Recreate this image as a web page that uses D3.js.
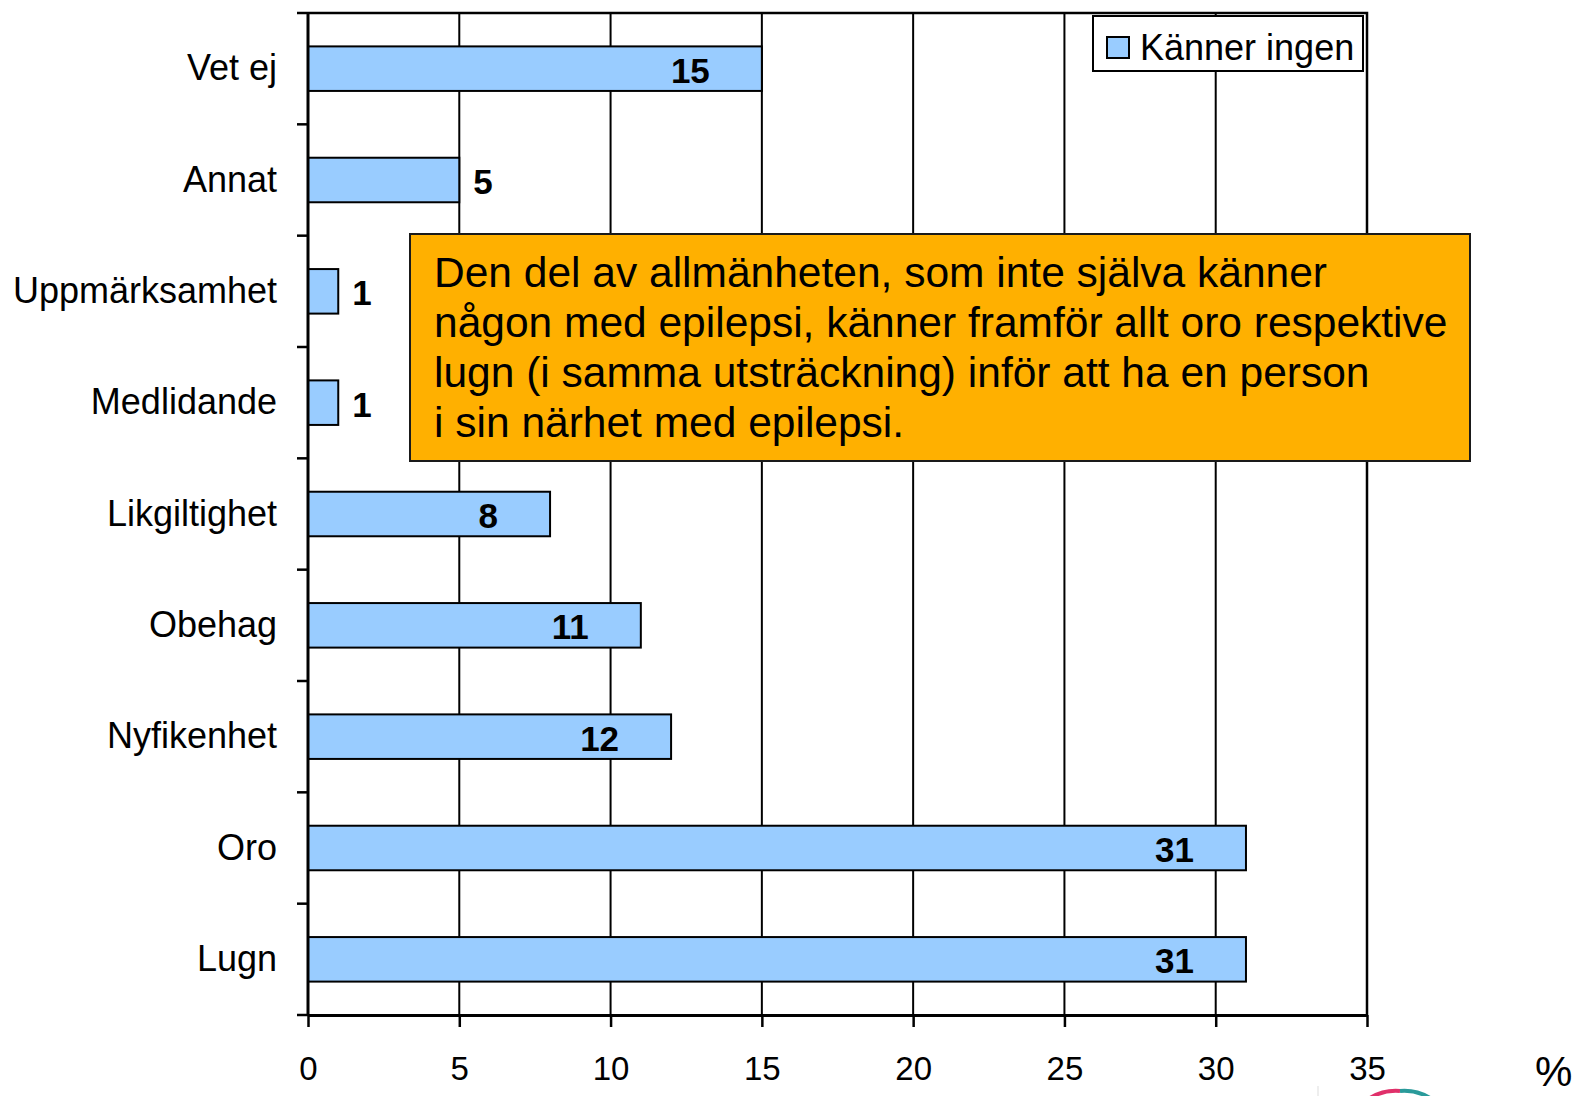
<!DOCTYPE html>
<html>
<head>
<meta charset="utf-8">
<script src="https://cdn.jsdelivr.net/npm/d3@7"></script>
<style>
  body { margin: 0; background: #fff; }
  svg text { font-family: "Liberation Sans", Arial, sans-serif; fill: #000; }
</style>
</head>
<body>
<div class="chart"></div>
<script>
// data, top to bottom as in the picture
var categories = ["Vet ej", "Annat", "Uppmärksamhet", "Medlidande", "Likgiltighet", "Obehag", "Nyfikenhet", "Oro", "Lugn"];
var values = [15, 5, 1, 1, 8, 11, 12, 31, 31];
var xTicks = [0, 5, 10, 15, 20, 25, 30, 35];
var seriesName = "Känner ingen";
var noteLines = [
  "Den del av allmänheten, som inte själva känner",
  "någon med epilepsi, känner framför allt oro respektive",
  "lugn (i samma utsträckning) inför att ha en person",
  "i sin närhet med epilepsi."
];

var svgWidth = 1581;
var svgHeight = 1096;
var margin = { top: 13, right: 214, bottom: 81, left: 308 };
var width = svgWidth - margin.left - margin.right;
var height = svgHeight - margin.top - margin.bottom;

var svg = d3.select(".chart")
  .append("svg")
  .attr("width", svgWidth)
  .attr("height", svgHeight);

var chartGroup = svg.append("g")
  .attr("transform", `translate(${margin.left}, ${margin.top})`);

var data = categories.map((c, i) => ({ cat: c, value: values[i] }));

// scales
var x = d3.scaleLinear().domain([0, 35]).range([0, width]);
var y = d3.scaleBand().domain(categories).range([0, height])
  .paddingInner(0.6).paddingOuter(0.3);

// gridlines
chartGroup.selectAll(".grid")
  .data(xTicks.slice(1, -1))
  .enter()
  .append("line")
  .attr("x1", d => x(d)).attr("x2", d => x(d))
  .attr("y1", 0).attr("y2", height)
  .attr("stroke", "#000").attr("stroke-width", 2);

// plot border (top + right)
chartGroup.append("path")
  .attr("d", `M0,0H${width}V${height}`)
  .attr("fill", "none").attr("stroke", "#000").attr("stroke-width", 2.5);

// bars
chartGroup.selectAll(".bar")
  .data(data)
  .enter()
  .append("rect")
  .attr("x", x(0))
  .attr("y", d => y(d.cat))
  .attr("width", d => x(d.value) - x(0))
  .attr("height", y.bandwidth())
  .attr("fill", "#99CCFF")
  .attr("stroke", "#000")
  .attr("stroke-width", 2);

// value labels (outside when the bar is short)
var outside = d => x(d.value) - x(0) < 200;
chartGroup.selectAll(".val")
  .data(data)
  .enter()
  .append("text")
  .attr("x", d => outside(d) ? x(d.value) + 14 : x(d.value) - 52)
  .attr("y", d => y(d.cat) + y.bandwidth() / 2 + 14)
  .attr("text-anchor", d => outside(d) ? "start" : "end")
  .style("font-size", "35px")
  .style("font-weight", "bold")
  .text(d => d.value);

// x axis
var bottomAxis = d3.axisBottom(x).tickValues(xTicks).tickSize(12).tickSizeOuter(0).tickPadding(30);
var xAxis = chartGroup.append("g")
  .attr("transform", `translate(0, ${height})`)
  .call(bottomAxis);
xAxis.select(".domain").attr("stroke-width", 3);
xAxis.selectAll(".tick line").attr("stroke-width", 2.5);
xAxis.selectAll("text").style("font-size", "33px").style("font-family", "Liberation Sans, Arial, sans-serif");

// y axis: labels at band centres, ticks at band boundaries
var leftAxis = d3.axisLeft(y).tickSize(0).tickPadding(31);
var yAxis = chartGroup.append("g").call(leftAxis);
yAxis.select(".domain").remove();
yAxis.selectAll("text").style("font-size", "36px").style("font-family", "Liberation Sans, Arial, sans-serif");

var bounds = d3.range(categories.length + 1).map(i => i * y.step());
chartGroup.selectAll(".ytick")
  .data(bounds)
  .enter()
  .append("line")
  .attr("x1", -11).attr("x2", 0)
  .attr("y1", d => d).attr("y2", d => d)
  .attr("stroke", "#000").attr("stroke-width", 2.5);
chartGroup.append("line")
  .attr("x1", 0).attr("x2", 0).attr("y1", 0).attr("y2", height)
  .attr("stroke", "#000").attr("stroke-width", 3);

// annotation box
svg.append("rect")
  .attr("x", 410).attr("y", 234).attr("width", 1060).attr("height", 227)
  .attr("fill", "#FFB000").attr("stroke", "#1a1a1a").attr("stroke-width", 2);
svg.append("g").selectAll("text")
  .data(noteLines)
  .enter()
  .append("text")
  .attr("x", 434)
  .attr("y", (d, i) => 287 + i * 50)
  .style("font-size", "42.5px")
  .text(d => d);

// legend
var legend = svg.append("g");
legend.append("rect")
  .attr("x", 1093).attr("y", 16).attr("width", 270).attr("height", 55)
  .attr("fill", "#fff").attr("stroke", "#000").attr("stroke-width", 2);
legend.append("rect")
  .attr("x", 1107).attr("y", 37).attr("width", 22).attr("height", 21)
  .attr("fill", "#99CCFF").attr("stroke", "#000").attr("stroke-width", 2);
legend.append("text")
  .attr("x", 1140).attr("y", 60)
  .style("font-size", "36px")
  .text(seriesName);

// unit
svg.append("text")
  .attr("x", 1535).attr("y", 1086)
  .style("font-size", "42px")
  .text("%");

// cut-off logo at the bottom edge
svg.append("line")
  .attr("x1", 1318).attr("x2", 1318).attr("y1", 1086).attr("y2", 1096)
  .attr("stroke", "#ddd").attr("stroke-width", 1);
svg.append("path")
  .attr("d", "M1370,1098 A50,50 0 0,1 1400,1091")
  .attr("fill", "none").attr("stroke", "#e0306a").attr("stroke-width", 4);
svg.append("path")
  .attr("d", "M1400,1091 A50,50 0 0,1 1430,1098")
  .attr("fill", "none").attr("stroke", "#2a9a9a").attr("stroke-width", 4);
</script>
</body>
</html>
